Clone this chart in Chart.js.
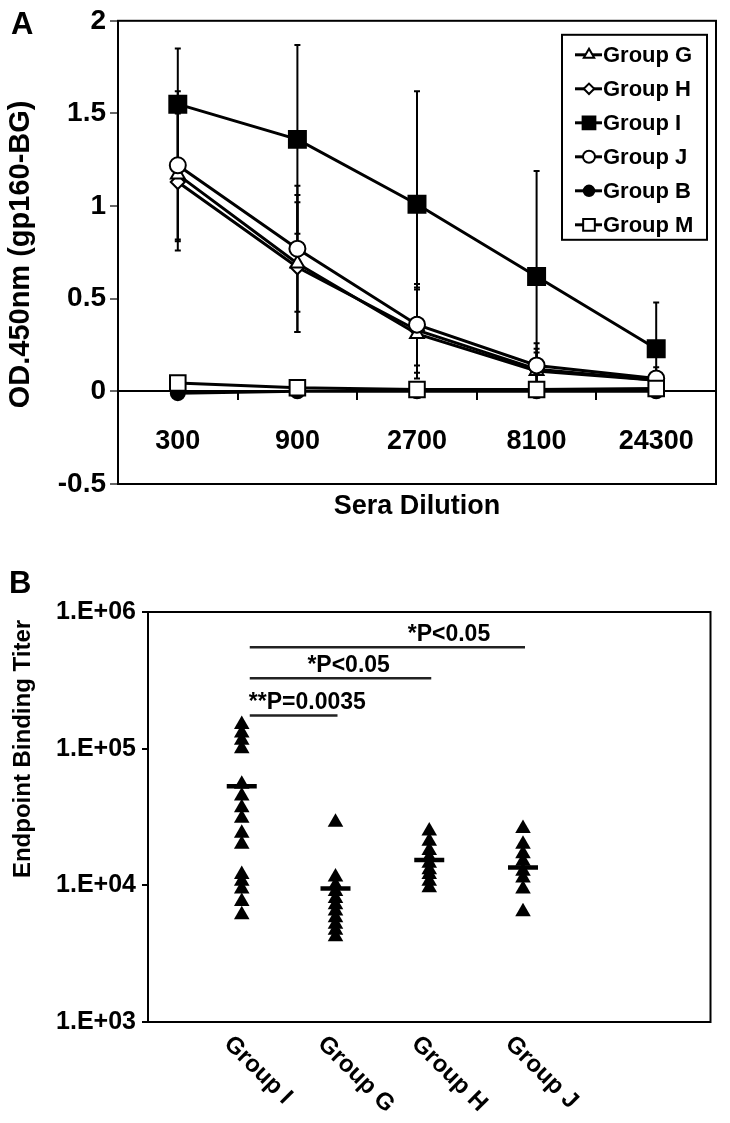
<!DOCTYPE html>
<html>
<head>
<meta charset="utf-8">
<script src="https://cdn.jsdelivr.net/npm/chart.js@4.4.1/dist/chart.umd.min.js"></script>
<style>
  body { margin: 0; background: #fff; }
  canvas { position: absolute; left: 0; }
  #chartA { top: 0; }
  #chartB { top: 540px; }
</style>
</head>
<body>
<canvas id="chartA" width="730" height="540"></canvas>
<canvas id="chartB" width="730" height="583"></canvas>
<script>
// ---- panel A: OD450 vs sera dilution ----
const dilutions = ["300", "900", "2700", "8100", "24300"];
const odTicks = [-0.5, 0, 0.5, 1, 1.5, 2];

const groupG = [1.17, 0.69, 0.31, 0.11, 0.06];
const groupH = [1.13, 0.67, 0.33, 0.12, 0.06];
const groupI = [1.55, 1.36, 1.01, 0.62, 0.23];
const groupJ = [1.22, 0.77, 0.36, 0.14, 0.07];
const groupB = [-0.01, 0.0, 0.0, 0.0, 0.0];
const groupM = [0.045, 0.02, 0.01, 0.01, 0.015];

const errG = [0.36, 0.37, 0.24, 0.10, 0.04];
const errH = [0.37, 0.35, 0.23, 0.11, 0.05];
const errI = [0.30, 0.51, 0.61, 0.57, 0.25];
const errJ = [0.40, 0.34, 0.22, 0.12, 0.06];
const errB = [0.01, 0.01, 0.01, 0.01, 0.01];
const errM = [0.02, 0.01, 0.01, 0.01, 0.01];

// ---- panel B: endpoint titers ----
const titerGroups = ["Group I", "Group G", "Group H", "Group J"];
const titerI = [150000, 130000, 115000, 100000, 55000, 45000, 37000, 31000, 24000, 20000, 12000, 10700, 9400, 7600, 6100];
const titerG = [29000, 11500, 10000, 9000, 8000, 7200, 6500, 5800, 5200, 4700, 4200];
const titerH = [25000, 21000, 18000, 16000, 14500, 13000, 12000, 10700, 9600];
const titerJ = [26000, 20000, 17000, 15000, 12700, 11300, 9400, 6400];
const titerMedians = [53000, 9500, 15300, 13500];
const titerTicks = [1000, 10000, 100000, 1000000];
const titerTickLabels = ["1.E+03", "1.E+04", "1.E+05", "1.E+06"];

const pLabels = ["*P<0.05", "*P<0.05", "**P=0.0035"];
const pFrom = ["Group I", "Group I", "Group I"];
const pTo = ["Group J", "Group H", "Group G"];
const pLevels = [553000, 327000, 175000];
const pLabelAt = [3.21, 2.14, 1.70];

const FONT = "'Liberation Sans', Arial, sans-serif";

function mark(ctx, style, r, fill, x, y) {
  ctx.save();
  ctx.lineWidth = 2;
  ctx.strokeStyle = "#000";
  ctx.fillStyle = fill;
  Chart.helpers.drawPoint(ctx, { pointStyle: style, radius: r, borderWidth: 2, rotation: 0 }, x, y);
  ctx.restore();
}

function ds(label, data, errs, style, r, fill, order) {
  return {
    label, data, errs, order,
    borderColor: "#000",
    borderWidth: 3,
    pointStyle: style,
    pointRadius: r,
    pointHoverRadius: r,
    pointBackgroundColor: fill,
    pointBorderColor: "#000",
    pointBorderWidth: 2,
    tension: 0
  };
}

const errorBars = {
  id: "errorBars",
  beforeDatasetsDraw(chart) {
    const { ctx, scales: { x, y } } = chart;
    ctx.save();
    ctx.strokeStyle = "#000";
    ctx.lineWidth = 2;
    chart.data.datasets.forEach(d => {
      d.data.forEach((v, i) => {
        const px = x.getPixelForValue(i);
        const top = y.getPixelForValue(v + d.errs[i]);
        const bot = y.getPixelForValue(v - d.errs[i]);
        ctx.beginPath();
        ctx.moveTo(px, top); ctx.lineTo(px, bot);
        ctx.moveTo(px - 3, top); ctx.lineTo(px + 3, top);
        ctx.moveTo(px - 3, bot); ctx.lineTo(px + 3, bot);
        ctx.stroke();
      });
    });
    ctx.restore();
  }
};

const panelA = {
  id: "panelA",
  afterDraw(chart) {
    const { ctx, chartArea: a } = chart;
    ctx.save();
    ctx.strokeStyle = "#000";
    ctx.lineWidth = 2;
    ctx.strokeRect(a.left, a.top, a.right - a.left, a.bottom - a.top);

    ctx.fillStyle = "#000";
    ctx.font = "bold 31px " + FONT;
    ctx.textAlign = "left";
    ctx.textBaseline = "middle";
    ctx.fillText("A", 11, 25);

    ctx.font = "bold 27px " + FONT;
    ctx.textAlign = "center";
    ctx.fillText("Sera Dilution", (a.left + a.right) / 2, 507);

    ctx.save();
    ctx.translate(21, (a.top + a.bottom) / 2 + 2);
    ctx.rotate(-Math.PI / 2);
    ctx.font = "bold 29px " + FONT;
    ctx.fillText("OD.450nm (gp160-BG)", 0, 0);
    ctx.restore();

    // legend
    const lx = a.right - 154, ly = a.top + 14;
    ctx.lineWidth = 2;
    ctx.strokeRect(lx, ly, 145, 205);
    chart.data.datasets.slice().sort((p, q) => p.legendIdx - q.legendIdx).forEach((d, i) => {
      const cy = ly + 20 + i * 34;
      ctx.lineWidth = 3;
      ctx.beginPath();
      ctx.moveTo(lx + 13, cy); ctx.lineTo(lx + 40, cy);
      ctx.stroke();
      mark(ctx, d.pointStyle, d.pointRadius * 0.75, d.pointBackgroundColor, lx + 27, cy);
      ctx.font = "bold 22px " + FONT;
      ctx.textAlign = "left";
      ctx.fillText(d.label, lx + 41, cy + 1);
    });
    ctx.restore();
  }
};

const setsA = [
  ds("Group G", groupG, errG, "triangle", 8, "#fff", 3),
  ds("Group H", groupH, errH, "rectRot", 7, "#fff", 4),
  ds("Group I", groupI, errI, "rect", 12, "#000", 0),
  ds("Group J", groupJ, errJ, "circle", 8, "#fff", 2),
  ds("Group B", groupB, errB, "circle", 7, "#000", 5),
  ds("Group M", groupM, errM, "rect", 11, "#fff", 1)
];
setsA.forEach((d, i) => { d.legendIdx = i; });

new Chart(document.getElementById("chartA"), {
  type: "line",
  data: { labels: dilutions, datasets: setsA },
  options: {
    responsive: false,
    animation: false,
    devicePixelRatio: 1,
    layout: { padding: { top: 19, right: 8, bottom: 56, left: 0 } },
    plugins: { legend: { display: false }, tooltip: { enabled: false } },
    scales: {
      x: {
        type: "category",
        position: { y: 0 },
        offset: true,
        grid: { offset: true, drawOnChartArea: false, drawTicks: true, tickLength: 8, color: "#000", lineWidth: 2 },
        border: { display: true, color: "#000", width: 2 },
        ticks: { color: "#000", font: { family: FONT, size: 27, weight: "bold" }, padding: 26, maxRotation: 0 }
      },
      y: {
        min: -0.5,
        max: 2,
        afterBuildTicks: s => { s.ticks = odTicks.map(v => ({ value: v })); },
        afterFit: s => { s.width = 118; },
        grid: { drawOnChartArea: false, tickLength: 8, color: "#666", lineWidth: 2 },
        border: { display: false },
        ticks: {
          color: "#000",
          font: { family: FONT, size: 28, weight: "bold" },
          padding: 4,
          callback: v => String(v)
        }
      }
    }
  },
  plugins: [errorBars, panelA]
});

// ---- panel B ----
const panelB = {
  id: "panelB",
  afterDraw(chart) {
    const { ctx, chartArea: a, scales: { x, y } } = chart;
    ctx.save();
    ctx.strokeStyle = "#000";
    ctx.lineWidth = 2;
    ctx.strokeRect(a.left, a.top, a.right - a.left, a.bottom - a.top);

    ctx.fillStyle = "#000";
    ctx.font = "bold 31px " + FONT;
    ctx.textAlign = "left";
    ctx.textBaseline = "middle";
    ctx.fillText("B", 9, 44);

    ctx.save();
    ctx.translate(23, 209);
    ctx.rotate(-Math.PI / 2);
    ctx.font = "bold 24px " + FONT;
    ctx.textAlign = "center";
    ctx.fillText("Endpoint Binding Titer", 0, 0);
    ctx.restore();

    // group labels, rotated
    ctx.font = "bold 24px " + FONT;
    titerGroups.forEach((g, i) => {
      const px = x.getPixelForValue(i + 1);
      ctx.save();
      ctx.translate(px - 14, a.bottom + 18);
      ctx.rotate(Math.PI / 4);
      ctx.textAlign = "left";
      ctx.fillText(g, 0, 0);
      ctx.restore();
    });

    // significance brackets
    ctx.strokeStyle = "#222";
    ctx.lineWidth = 2.5;
    ctx.font = "bold 23px " + FONT;
    ctx.textAlign = "center";
    ctx.textBaseline = "bottom";
    pLabels.forEach((t, k) => {
      const x0 = x.getPixelForValue(titerGroups.indexOf(pFrom[k]) + 1) + 8;
      const x1 = x.getPixelForValue(titerGroups.indexOf(pTo[k]) + 1) + 2;
      const py = y.getPixelForValue(pLevels[k]);
      ctx.beginPath();
      ctx.moveTo(x0, py); ctx.lineTo(x1, py);
      ctx.stroke();
      ctx.fillText(t, x.getPixelForValue(pLabelAt[k]), py - 1);
    });
    ctx.restore();
  }
};

const titerSets = [titerI, titerG, titerH, titerJ].map((vals, i) => ({
  label: titerGroups[i],
  data: vals.map(v => ({ x: i + 1, y: v })),
  pointStyle: "triangle",
  pointRadius: 9,
  pointHoverRadius: 9,
  pointBackgroundColor: "#000",
  pointBorderColor: "#000",
  pointBorderWidth: 0
}));
titerSets.push({
  label: "median",
  data: titerMedians.map((v, i) => ({ x: i + 1, y: v })),
  pointStyle: "line",
  pointRadius: 15,
  pointHoverRadius: 15,
  pointBorderColor: "#000",
  pointBorderWidth: 4.5
});

new Chart(document.getElementById("chartB"), {
  type: "scatter",
  data: { datasets: titerSets },
  options: {
    responsive: false,
    animation: false,
    devicePixelRatio: 1,
    layout: { padding: { top: 72, right: 10, bottom: 101, left: 0 } },
    plugins: { legend: { display: false }, tooltip: { enabled: false } },
    scales: {
      x: { type: "linear", min: 0, max: 6, display: false },
      y: {
        type: "logarithmic",
        min: 1000,
        max: 1000000,
        afterBuildTicks: s => { s.ticks = titerTicks.map(v => ({ value: v })); },
        afterFit: s => { s.width = 148; },
        grid: { drawOnChartArea: false, tickLength: 6, color: "#000", lineWidth: 2 },
        border: { display: false },
        ticks: {
          color: "#000",
          font: { family: FONT, size: 25, weight: "bold" },
          padding: 6,
          callback: v => titerTickLabels[titerTicks.indexOf(v)]
        }
      }
    }
  },
  plugins: [panelB]
});
</script>
</body>
</html>
